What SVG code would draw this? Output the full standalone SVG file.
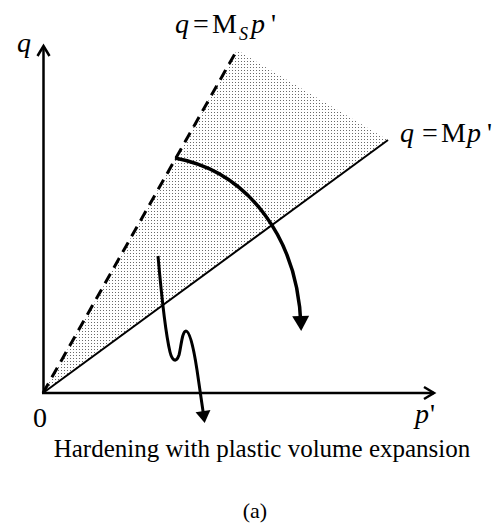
<svg xmlns="http://www.w3.org/2000/svg" width="500" height="529" viewBox="0 0 500 529">
<style>
.t{font-family:"Liberation Serif","Times New Roman",serif;fill:#000}
.i{font-style:italic}
.ax{fill:none;stroke:#000;stroke-width:2.5}
.ln{fill:none;stroke:#000;stroke-width:2}
.ds{fill:none;stroke:#000;stroke-width:3;stroke-dasharray:11 7}
.cv{fill:none;stroke:#000;stroke-width:3.5}
.wv{fill:none;stroke:#000;stroke-width:3}
</style>
<defs>
<pattern id="dots" width="3" height="3" patternUnits="userSpaceOnUse">
<rect x="1" y="1" width="1" height="1" fill="#6a6a6a"/>
</pattern>
<marker id="headBig" markerUnits="userSpaceOnUse" markerWidth="18" markerHeight="20" viewBox="-1 -10 18 20" refX="10" refY="0" orient="auto">
<path d="M0,-8.5 L15,0 L0,8.5 z" fill="#000"/>
</marker>
<marker id="headSmall" markerUnits="userSpaceOnUse" markerWidth="16" markerHeight="18" viewBox="-1 -9 16 18" refX="7" refY="0" orient="auto">
<path d="M0,-7.5 L12,0 L0,7.5 z" fill="#000"/>
</marker>
</defs>

<g id="region">
<polygon points="43,393 237,50 388,140" fill="url(#dots)"/>
</g>

<g id="axes">
<line class="ax" x1="43.5" y1="393" x2="43.5" y2="46"/>
<path class="ax" d="M37.5,56 L43.5,46 L49.5,56"/>
<line class="ax" x1="42" y1="393" x2="434" y2="393"/>
<path class="ax" d="M424,387 L434,393 L424,399"/>
</g>

<g id="lines">
<line class="ds" x1="43" y1="393" x2="237" y2="50"/>
<line class="ln" x1="43" y1="393" x2="388" y2="140"/>
</g>

<g id="connectors">
<path class="cv" d="M175,158 C250,172 298,240 301,326" marker-end="url(#headBig)"/>
<path class="wv" d="M158,256 C161,290 166,335 170,352 C172,360 176,364 179,355 C181,348 182,331 186,331 C190,331 194,350 197,370 L204,418" marker-end="url(#headSmall)"/>
</g>

<g id="labels">
<text class="t i" x="17" y="52" font-size="28">q</text>
<text class="t" font-size="28" y="33"><tspan class="i" x="175">q</tspan><tspan x="193">=</tspan><tspan x="212">M</tspan><tspan class="i" x="239" y="40" font-size="18">S</tspan><tspan class="i" x="251" y="33">p</tspan><tspan x="271" y="33">'</tspan></text>
<text class="t" font-size="28" y="142"><tspan class="i" x="400">q</tspan><tspan x="422">=</tspan><tspan x="441">M</tspan><tspan class="i" x="467">p</tspan><tspan x="487">'</tspan></text>
<text class="t" x="33" y="427" font-size="28">0</text>
<text class="t" font-size="28" y="423"><tspan class="i" x="415">p</tspan><tspan x="430">'</tspan></text>
<text class="t" x="262" y="457" font-size="25" text-anchor="middle">Hardening with plastic volume expansion</text>
<text class="t" x="255" y="518" font-size="22" text-anchor="middle">(a)</text>
</g>
</svg>
